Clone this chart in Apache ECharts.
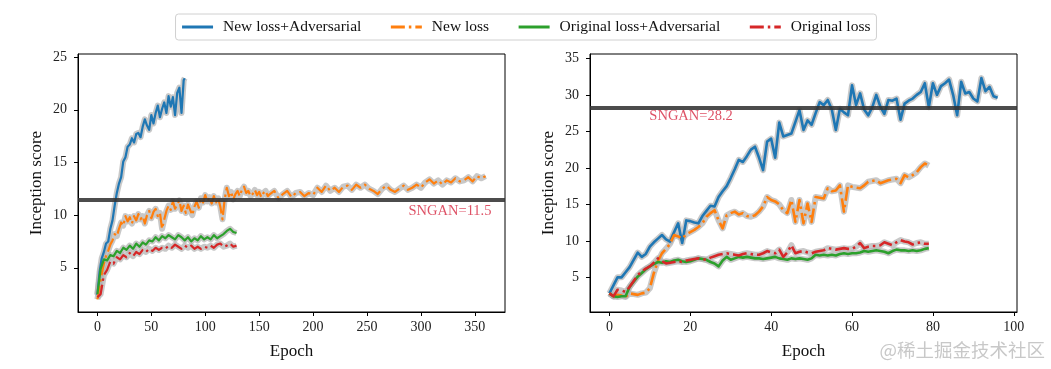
<!DOCTYPE html>
<html>
<head>
<meta charset="utf-8">
<script src="https://cdn.jsdelivr.net/npm/echarts@6/dist/echarts.min.js"></script>
<style>
html,body{margin:0;padding:0;background:#fff;}
#chart{width:1051px;height:369px;}
</style>
</head>
<body>
<div id="chart"></div>
<script>
// ---------- DATA ----------
const seriesNames = ['New loss+Adversarial', 'New loss', 'Original loss+Adversarial', 'Original loss'];

// Left panel: [epoch, inception score]
const leftBlue = [[0,2.4],[2,4.6],[4,5.9],[6,6.5],[8,7.3],[10,7.5],[12,8.7],[14,9.5],[16,10.9],[18,12.1],[20,13.0],[22,13.6],[24,15.1],[26,15.5],[28,16.5],[30,16.7],[32,17.3],[34,16.9],[36,17.7],[38,17.8],[40,17.4],[42,18.4],[44,19.1],[46,18.5],[48,18.1],[50,19.5],[52,18.7],[54,19.7],[56,20.4],[58,19.3],[60,20.1],[62,20.7],[64,19.7],[66,21.3],[68,20.3],[70,21.2],[72,19.5],[74,21.6],[76,22.1],[78,19.7],[80,22.8],[81,23.0]];
const leftOrange = [[0,2.0],[2,3.2],[4,4.4],[6,5.4],[8,6.1],[10,6.6],[12,7.2],[14,7.6],[16,8.2],[18,8.0],[20,8.7],[22,9.3],[24,9.0],[26,9.9],[28,9.4],[30,9.8],[32,9.2],[34,9.9],[36,9.5],[38,10.1],[40,9.6],[42,9.9],[44,9.2],[46,10.0],[48,10.4],[50,9.7],[52,10.3],[54,10.6],[56,9.9],[58,10.2],[60,8.7],[62,9.6],[64,10.4],[66,10.9],[68,10.5],[70,11.3],[72,10.6],[74,11.0],[76,11.4],[78,10.4],[80,10.9],[82,10.2],[84,11.0],[86,10.5],[88,10.0],[90,10.8],[92,11.3],[94,10.7],[96,11.6],[98,11.2],[100,11.9],[102,11.3],[104,11.7],[106,11.1],[108,11.8],[110,11.2],[112,11.6],[114,10.8],[116,9.6],[118,11.5],[120,12.6],[122,11.8],[124,12.2],[126,11.5],[128,12.0],[130,12.3],[132,11.8],[134,12.4],[136,12.7],[138,12.1],[140,12.3],[142,11.8],[144,12.0],[146,12.4],[148,11.9],[150,12.2],[152,11.7],[154,12.1],[156,12.3],[158,11.8],[160,12.0],[164,12.3],[168,11.6],[172,12.0],[176,12.3],[180,11.7],[184,12.1],[188,12.2],[192,11.8],[196,12.1],[200,11.9],[204,12.6],[208,12.2],[212,12.8],[216,12.3],[220,12.6],[224,12.2],[228,12.7],[232,12.8],[236,12.4],[240,12.9],[244,12.6],[248,12.9],[252,12.5],[256,12.3],[260,12.0],[264,12.5],[268,12.8],[272,12.4],[276,12.2],[280,12.5],[284,12.8],[288,12.4],[292,12.6],[296,12.9],[300,12.6],[304,13.1],[308,13.4],[312,13.0],[316,13.3],[320,12.9],[324,13.3],[328,13.1],[332,13.5],[336,13.2],[340,13.3],[344,13.6],[348,13.2],[352,13.7],[356,13.5],[360,13.7]];
const leftGreen = [[0,2.5],[3,4.9],[6,5.8],[9,5.7],[12,6.2],[15,6.1],[18,6.6],[21,6.4],[24,6.9],[27,6.7],[30,7.1],[33,6.8],[36,7.3],[39,7.0],[42,7.4],[45,7.2],[48,7.6],[51,7.5],[54,7.9],[57,7.6],[60,8.0],[63,7.8],[66,8.1],[69,7.9],[72,7.7],[75,8.1],[78,7.9],[81,7.6],[84,7.9],[87,7.5],[90,7.8],[93,7.6],[96,8.0],[99,7.7],[102,7.9],[105,7.7],[108,8.1],[111,7.8],[114,8.0],[117,8.2],[120,8.5],[123,8.7],[126,8.4],[129,8.3]];
const leftRed = [[0,2.2],[3,2.5],[6,4.3],[9,4.8],[12,5.6],[15,5.4],[18,6.0],[21,5.8],[24,6.2],[27,6.0],[30,6.4],[33,6.1],[36,6.5],[39,6.3],[42,6.7],[45,6.5],[48,6.8],[51,6.6],[54,6.9],[57,6.7],[60,6.9],[63,6.8],[66,7.1],[69,6.9],[72,7.2],[75,7.0],[78,6.8],[81,7.1],[84,6.9],[87,7.1],[90,6.8],[93,7.0],[96,6.8],[99,7.0],[102,6.9],[105,7.1],[108,6.9],[111,7.2],[114,7.3],[117,7.0],[120,7.1],[123,7.3],[126,7.0],[129,7.1]];

// Right panel: one value per epoch, starting at epoch 0
const rightBlue = [2.8,3.9,5.0,5.0,5.7,6.4,7.4,8.4,7.8,8.2,9.2,9.8,10.3,10.8,10.2,9.9,11.2,12.4,9.7,12.8,12.7,12.5,12.4,13.4,14.1,14.8,14.7,16.0,16.8,17.5,18.6,19.8,21.1,20.8,21.6,22.5,22.9,21.4,19.7,23.6,24.0,21.4,26.2,24.3,24.5,24.7,26.3,27.9,25.2,26.5,25.9,27.5,29.0,28.6,29.3,28.0,25.2,28.1,27.6,27.2,31.3,28.6,30.2,28.0,27.2,28.3,30.0,28.4,27.4,29.3,29.2,29.5,26.6,28.8,29.2,29.5,30.0,30.4,31.6,28.3,31.6,30.0,31.2,31.6,32.1,30.0,27.2,31.8,30.2,30.4,29.5,29.1,32.3,30.5,31.1,29.8,29.6];
const rightOrange = [2.8,2.4,2.6,2.5,2.3,2.8,2.7,2.6,2.8,2.9,3.5,5.6,7.2,8.3,8.9,9.6,10.8,10.6,10.3,10.9,11.2,11.5,11.9,12.4,13.3,13.8,14.2,12.8,11.7,13.5,13.8,14.0,13.6,13.8,13.4,13.3,13.5,14.0,14.7,16.0,15.6,15.4,15.0,14.2,13.8,15.6,12.6,15.6,12.4,15.1,12.6,16.0,15.9,15.8,17.2,16.8,16.9,17.6,14.0,17.6,17.4,17.3,17.2,17.6,18.1,18.2,18.3,17.9,18.1,18.3,18.4,18.5,17.9,19.0,18.7,19.0,19.4,20.1,20.6,20.3];
const rightGreen = [2.8,2.4,2.3,2.4,2.4,3.7,4.4,5.1,5.6,6.1,6.5,6.8,7.1,7.0,7.2,7.1,7.3,7.4,7.2,7.1,7.2,7.4,7.6,7.5,7.4,7.1,6.9,6.5,7.3,7.8,7.4,7.6,7.8,7.7,7.8,7.7,7.6,7.6,7.5,7.6,7.7,7.8,7.6,7.5,7.4,7.6,7.5,7.6,7.5,7.4,7.6,8.1,8.0,8.1,8.0,8.1,8.0,8.2,8.3,8.2,8.3,8.3,8.4,8.6,8.5,8.6,8.7,8.6,8.5,8.3,8.6,8.8,8.7,8.7,8.6,8.7,8.6,8.7,8.9,9.0];
const rightRed = [2.8,2.4,3.3,3.2,3.0,3.7,4.5,5.3,5.8,6.2,6.5,7.0,7.6,7.2,6.9,7.0,7.1,7.2,7.1,7.3,7.4,7.5,7.6,7.5,7.4,7.7,7.9,8.1,8.2,8.3,8.2,8.1,8.0,8.2,8.3,8.2,8.1,8.1,8.3,8.6,8.4,8.3,8.8,7.8,8.4,9.4,8.3,8.5,8.6,8.4,8.3,8.5,8.6,8.7,9.0,8.9,8.8,8.9,9.0,8.9,8.9,9.2,9.7,9.0,9.2,9.3,9.3,9.4,9.8,9.6,9.4,9.8,10.1,9.9,9.8,9.5,9.7,9.8,9.6,9.6];

// Baselines
const sngan = [11.5, 28.2];
const snganLabels = ['SNGAN=11.5', 'SNGAN=28.2'];
const snganLabelPos = [[289, 9.6], [10, 26.0]];

// Axis ticks
const leftXTicks = [0,50,100,150,200,250,300,350];
const leftYTicks = [5,10,15,20,25];
const rightXTicks = [0,20,40,60,80,100];
const rightYTicks = [5,10,15,20,25,30,35];

// ---------- STYLE ----------
const FONT = 'Liberation Serif';
const colors = ['#1f77b4', '#ff7f0e', '#2ca02c', '#d62728'];
const dashDot = [14, 4, 2.5, 4];
const lineTypes = ['solid', dashDot, 'solid', dashDot];
const lineWidths = [2.2, 2.6];

function toPairs(vals) { return vals.map((v, i) => [i, v]); }

const chart = echarts.init(document.getElementById('chart'), null, {renderer: 'canvas'});

function xAxis(gridIndex, min, max, ticks) {
  return {
    type: 'value', gridIndex, min, max,
    name: 'Epoch', nameLocation: 'middle', nameGap: 31,
    nameTextStyle: {fontFamily: FONT, fontSize: 17, color: '#111'},
    axisLine: {show: true, onZero: false, lineStyle: {color: '#000', width: 1}},
    axisTick: {show: true, length: 4, inside: false, customValues: ticks, lineStyle: {color: '#000'}},
    axisLabel: {customValues: ticks, fontFamily: FONT, fontSize: 14, color: '#222', margin: 8},
    splitLine: {show: false}
  };
}
function yAxis(gridIndex, min, max, ticks) {
  return {
    type: 'value', gridIndex, min, max,
    name: 'Inception score', nameLocation: 'middle', nameGap: 33, nameRotate: 90,
    nameTextStyle: {fontFamily: FONT, fontSize: 17, color: '#111'},
    axisLine: {show: true, onZero: false, lineStyle: {color: '#000', width: 1}},
    axisTick: {show: true, length: 4, inside: false, customValues: ticks, lineStyle: {color: '#000'}},
    axisLabel: {customValues: ticks, fontFamily: FONT, fontSize: 14, color: '#222', margin: 11},
    splitLine: {show: false}
  };
}

const panels = [
  {data: [leftBlue, leftOrange, leftGreen, leftRed]},
  {data: [toPairs(rightBlue), toPairs(rightOrange), toPairs(rightGreen), toPairs(rightRed)]}
];

const series = [];
panels.forEach((p, pi) => {
  p.data.forEach((d, si) => {
    series.push({
      name: 'band' + pi + si, type: 'line', xAxisIndex: pi, yAxisIndex: pi,
      data: d, showSymbol: false, symbol: 'none', silent: true, z: 1,
      lineStyle: {color: '#b0b0b0', width: 6, opacity: 0.7, join: 'round'},
      animation: false
    });
  });
  p.data.forEach((d, si) => {
    const s = {
      name: seriesNames[si], type: 'line', xAxisIndex: pi, yAxisIndex: pi,
      data: d, showSymbol: false, symbol: 'none', z: 3,
      color: colors[si],
      lineStyle: {color: colors[si], width: lineWidths[pi], type: lineTypes[si], join: 'round'},
      animation: false
    };
    if (si === 0) {
      s.markLine = {
        silent: true, symbol: 'none', animation: false,
        data: [{yAxis: sngan[pi]}],
        lineStyle: {color: '#333', width: 4, type: 'solid', opacity: 0.88},
        label: {show: false}
      };
    }
    series.push(s);
  });
  series.push({
    name: 'snganText' + pi, type: 'scatter', xAxisIndex: pi, yAxisIndex: pi,
    data: [snganLabelPos[pi]], symbolSize: 1, silent: true, z: 5,
    itemStyle: {color: 'rgba(0,0,0,0)'},
    label: {show: true, formatter: snganLabels[pi], position: [0, 0], align: 'left', verticalAlign: 'bottom',
      fontFamily: FONT, fontSize: 14.5, color: '#d62740'},
    animation: false
  });
});

chart.setOption({
  backgroundColor: '#fff',
  animation: false,
  legend: {
    data: seriesNames, top: 14, left: 'center',
    itemWidth: 31, itemHeight: 10, itemGap: 28,
    padding: [5, 6, 5, 5],
    borderColor: '#d0d0d0', borderWidth: 1, borderRadius: 3,
    itemStyle: {opacity: 0, borderWidth: 0},
    lineStyle: {width: 3},
    textStyle: {fontFamily: FONT, fontSize: 15.5, color: '#111', padding: [0, 0, 0, 5]}
  },
  grid: [
    {left: 78, top: 54, width: 427, height: 258, show: true, borderColor: '#000', borderWidth: 1, backgroundColor: 'transparent'},
    {left: 590, top: 54, width: 427, height: 258, show: true, borderColor: '#000', borderWidth: 1, backgroundColor: 'transparent'}
  ],
  xAxis: [xAxis(0, -18, 378, leftXTicks), xAxis(1, -4.8, 100.8, rightXTicks)],
  yAxis: [yAxis(0, 0.8, 25.3, leftYTicks), yAxis(1, 0.25, 35.6, rightYTicks)],
  graphic: [{
    type: 'text', right: 6, top: 341,
    style: {text: '@稀土掘金技术社区', fontFamily: 'Noto Sans CJK SC', fontSize: 18.5, fill: '#c8c8c8'}
  }],
  series
});
</script>
</body>
</html>
